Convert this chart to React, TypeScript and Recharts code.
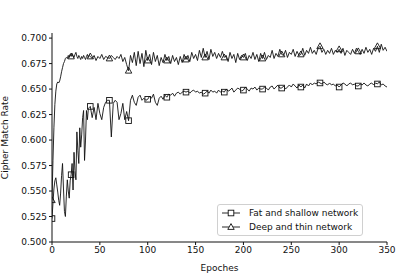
import React from 'react';
import { LineChart, Line, XAxis, YAxis } from 'recharts';

// epochs 0..40, one value per epoch
const fatEarly = [
  0.523, 0.538, 0.552, 0.560, 0.563, 0.556, 0.549, 0.541, 0.536, 0.548,
  0.565, 0.577, 0.552, 0.530, 0.525, 0.545, 0.561, 0.550, 0.543, 0.560,
  0.566, 0.577, 0.551, 0.588, 0.570, 0.561, 0.608, 0.590, 0.577, 0.612,
  0.593, 0.605, 0.622, 0.629, 0.580, 0.600, 0.629, 0.620, 0.631, 0.632,
  0.633,
];
const deepEarly = [
  0.541, 0.580, 0.612, 0.635, 0.648, 0.655, 0.657, 0.656, 0.658, 0.662,
  0.667, 0.671, 0.675, 0.677, 0.680, 0.681, 0.680, 0.683, 0.681, 0.684,
  0.682, 0.685, 0.683, 0.681, 0.684, 0.686, 0.682, 0.680, 0.683, 0.681,
  0.679, 0.682, 0.680, 0.683, 0.681, 0.679, 0.682, 0.684, 0.681, 0.683,
  0.682,
];

// epochs 42..350, every second epoch
const fatLate = [
  0.622, 0.632, 0.620, 0.636, 0.626, 0.620, 0.632, 0.637, 0.639, 0.639,
  0.603, 0.636, 0.639, 0.637, 0.620, 0.626, 0.636, 0.620, 0.628, 0.619,
  0.639, 0.644, 0.637, 0.634, 0.642, 0.644, 0.639, 0.641, 0.639, 0.640,
  0.643, 0.641, 0.645, 0.637, 0.634, 0.641, 0.643, 0.640, 0.644, 0.642,
  0.645, 0.644, 0.646, 0.643, 0.646, 0.647, 0.645, 0.647, 0.648, 0.647,
  0.648, 0.646, 0.648, 0.649, 0.647, 0.648, 0.646, 0.647, 0.645, 0.646,
  0.648, 0.646, 0.649, 0.647, 0.648, 0.646, 0.649, 0.647, 0.648, 0.647,
  0.650, 0.648, 0.649, 0.651, 0.647, 0.649, 0.651, 0.650, 0.648, 0.649,
  0.652, 0.650, 0.648, 0.651, 0.650, 0.652, 0.649, 0.651, 0.650, 0.650,
  0.652, 0.651, 0.649, 0.652, 0.653, 0.650, 0.652, 0.654, 0.651, 0.651,
  0.653, 0.650, 0.652, 0.654, 0.652, 0.655, 0.653, 0.651, 0.654, 0.652,
  0.654, 0.651, 0.655, 0.653, 0.656, 0.654, 0.656, 0.655, 0.657, 0.656,
  0.655, 0.657, 0.655, 0.654, 0.656, 0.654, 0.655, 0.653, 0.654, 0.652,
  0.654, 0.656, 0.655, 0.653, 0.655, 0.656, 0.654, 0.655, 0.653, 0.653,
  0.655, 0.654, 0.656, 0.654, 0.653, 0.655, 0.656, 0.654, 0.656, 0.655,
  0.657, 0.654, 0.655, 0.653, 0.652,
];
const deepLate = [
  0.680, 0.683, 0.678, 0.682, 0.680, 0.684, 0.679, 0.682, 0.681, 0.680,
  0.683, 0.681, 0.679, 0.682, 0.680, 0.684, 0.677, 0.681, 0.674, 0.668,
  0.683, 0.676, 0.686, 0.673, 0.687, 0.675, 0.685, 0.672, 0.688, 0.678,
  0.684, 0.674, 0.686, 0.677, 0.683, 0.673, 0.681, 0.676, 0.684, 0.678,
  0.682, 0.675, 0.683, 0.677, 0.681, 0.674, 0.682, 0.676, 0.684, 0.679,
  0.683, 0.677, 0.686, 0.680, 0.684, 0.678, 0.688, 0.681, 0.690, 0.681,
  0.687, 0.679, 0.689, 0.682, 0.686, 0.680, 0.685, 0.681, 0.687, 0.681,
  0.683, 0.677, 0.686, 0.680, 0.684, 0.676, 0.685, 0.679, 0.683, 0.681,
  0.685, 0.678, 0.683, 0.680, 0.686, 0.679, 0.684, 0.677, 0.685, 0.680,
  0.686, 0.679, 0.683, 0.681, 0.688, 0.680, 0.685, 0.682, 0.689, 0.684,
  0.683, 0.688, 0.681, 0.686, 0.684, 0.689, 0.682, 0.687, 0.683, 0.684,
  0.690, 0.683, 0.688, 0.685, 0.691, 0.685, 0.688, 0.684, 0.690, 0.692,
  0.686, 0.689, 0.684, 0.688, 0.685, 0.690, 0.684, 0.688, 0.686, 0.689,
  0.685, 0.690, 0.683, 0.688, 0.686, 0.684, 0.689, 0.685, 0.690, 0.687,
  0.684, 0.689, 0.685, 0.691, 0.686, 0.689, 0.684, 0.690, 0.687, 0.692,
  0.686, 0.694, 0.688, 0.691, 0.687,
];

const xTicks = [0, 50, 100, 150, 200, 250, 300, 350];
const yTicks = [0.5, 0.525, 0.55, 0.575, 0.6, 0.625, 0.65, 0.675, 0.7];
const MARK_EVERY = 20;

const data = [
  ...fatEarly.map((v, i) => ({ epoch: i, fat: v, deep: deepEarly[i] })),
  ...fatLate.map((v, i) => ({ epoch: 42 + i * 2, fat: v, deep: deepLate[i] })),
];

const FONT = 'DejaVu Sans, sans-serif';
const INK = '#111';

const SquareDot = (props: any) => {
  const { cx, cy, payload, index } = props;
  if (payload.epoch % MARK_EVERY !== 0) return <g key={`s-${index}`} />;
  return (
    <rect key={`s-${index}`} x={cx - 2.8} y={cy - 2.8} width={5.6} height={5.6}
      fill="none" stroke={INK} strokeWidth={0.9} />
  );
};

const TriangleDot = (props: any) => {
  const { cx, cy, payload, index } = props;
  if (payload.epoch % MARK_EVERY !== 0) return <g key={`t-${index}`} />;
  return (
    <polygon key={`t-${index}`}
      points={`${cx},${cy - 3.4} ${cx - 3.2},${cy + 2.4} ${cx + 3.2},${cy + 2.4}`}
      fill="none" stroke={INK} strokeWidth={0.9} />
  );
};

const legendItems = [
  { label: 'Fat and shallow network', marker: 'square' },
  { label: 'Deep and thin network', marker: 'triangle' },
];

const LegendBox = () => (
  <div style={{
    position: 'absolute', left: 217, top: 204,
    border: '1px solid #d0d0d0', borderRadius: 3, background: 'rgba(255,255,255,0.8)',
    padding: '1px 4px 1px 2px', fontFamily: FONT, fontSize: 9, color: INK, lineHeight: '14px',
  }}>
    {legendItems.map((item) => (
      <div key={item.label} style={{ display: 'flex', alignItems: 'center' }}>
        <svg width={24} height={14} style={{ marginRight: 5 }}>
          <line x1={2} y1={7} x2={20} y2={7} stroke={INK} strokeWidth={0.9} />
          {item.marker === 'square' ? (
            <rect x={8.2} y={4.2} width={5.6} height={5.6} fill="#fff" stroke={INK} strokeWidth={0.9} />
          ) : (
            <polygon points="11,3.6 7.8,9.4 14.2,9.4" fill="#fff" stroke={INK} strokeWidth={0.9} />
          )}
        </svg>
        <span>{item.label}</span>
      </div>
    ))}
  </div>
);

export default function App() {
  return (
    <div style={{ position: 'absolute', left: 0, top: 0, width: 415, height: 277, background: '#fff' }}>
      <LineChart width={415} height={277} data={data}
        margin={{ top: 33, right: 28, bottom: 0, left: 0 }}>
        <XAxis dataKey="epoch" type="number" domain={[0, 350]} ticks={xTicks}
          allowDataOverflow height={35} stroke={INK} tickSize={3} tickMargin={2}
          tick={{ fontSize: 9, fontFamily: FONT, fill: INK }}
          label={{ value: 'Epoches', position: 'insideBottom', offset: 6, fontSize: 9, fontFamily: FONT, fill: INK }} />
        <XAxis xAxisId="top" dataKey="epoch" type="number" domain={[0, 350]} orientation="top"
          height={0} tick={false} tickLine={false} stroke={INK} />
        <YAxis type="number" domain={[0.5, 0.705]} ticks={yTicks} allowDataOverflow
          width={52} stroke={INK} tickSize={3} tickMargin={2}
          tickFormatter={(v: number) => v.toFixed(3)}
          tick={{ fontSize: 9, fontFamily: FONT, fill: INK }}
          label={{ value: 'Cipher Match Rate', angle: -90, position: 'insideLeft', offset: 5,
            textAnchor: 'middle', fontSize: 9, fontFamily: FONT, fill: INK }} />
        <YAxis yAxisId="right" orientation="right" domain={[0.5, 0.705]} width={0}
          tick={false} tickLine={false} stroke={INK} />
        <Line dataKey="fat" type="linear" stroke={INK} strokeWidth={0.9} dot={SquareDot}
          activeDot={false} isAnimationActive={false} />
        <Line dataKey="deep" type="linear" stroke={INK} strokeWidth={0.9} dot={TriangleDot}
          activeDot={false} isAnimationActive={false} />
      </LineChart>
      <LegendBox />
    </div>
  );
}
